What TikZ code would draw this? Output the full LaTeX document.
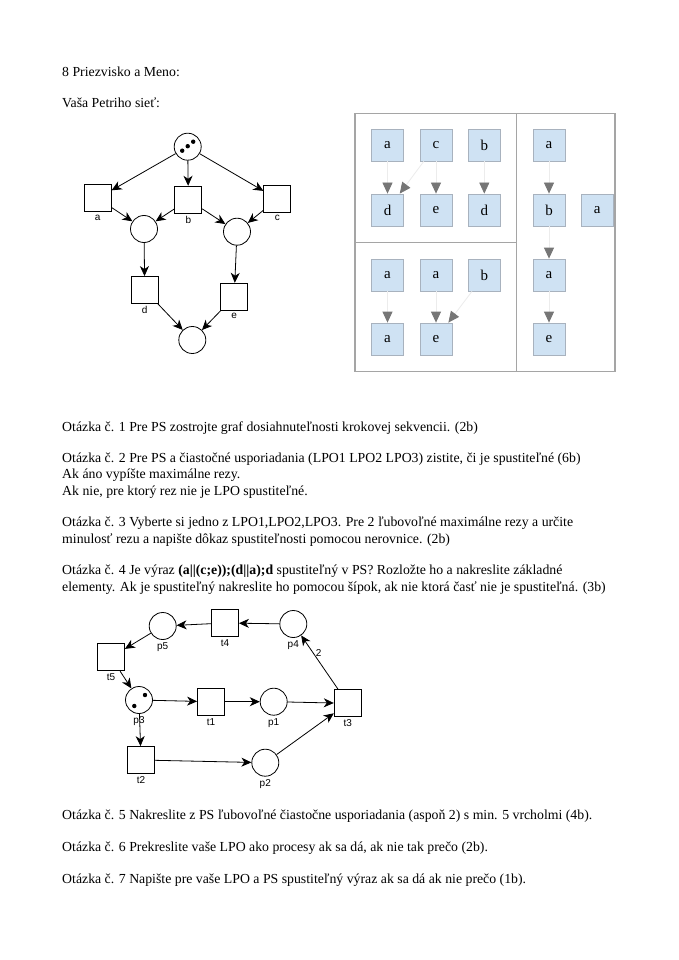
\documentclass[tikz,border=0pt]{standalone}
\usepackage{fontspec}
\setmainfont{Liberation Serif}
\newfontfamily\pnfont{Liberation Sans}
\usepackage{xcolor}
\usetikzlibrary{arrows.meta}

\definecolor{lpofill}{RGB}{207,226,243}
\definecolor{lpoedge}{RGB}{168,178,190}
\definecolor{lpohead}{RGB}{118,118,118}
\definecolor{lpoline}{RGB}{236,236,236}
\definecolor{framegray}{RGB}{165,165,165}

\begin{document}
\begin{tikzpicture}[x=1pt, y=-1pt,
    txt/.style={anchor=base west, inner sep=0pt, font=\fontsize{13.8}{16}\selectfont},
    pnplace/.style={circle, draw, line width=0.8pt, minimum size=27pt, inner sep=0pt},
    pntrans/.style={rectangle, draw, line width=0.8pt, minimum size=27pt, inner sep=0pt},
    lbl/.style={font=\pnfont\fontsize{10}{11}\selectfont, inner sep=1pt},
    arc/.style={line width=0.8pt, -{Stealth[length=10pt, width=9pt, inset=3pt]}},
    lpo/.style={rectangle, draw=lpoedge, fill=lpofill, line width=0.8pt, minimum size=32pt, inner sep=0pt, font=\fontsize{15}{15}\selectfont},
    order/.style={draw=lpoline, line width=0.8pt, -{Triangle[color=lpohead, length=11pt, width=10pt]}}]
    \useasboundingbox (0,0) rectangle (678,960);
    \fill[white] (0,0) rectangle (678,960);

    % texts
    \node[txt] (hdr) at (62,77) {8 Priezvisko a Meno:};
    \node[txt] (net) at (62,108) {Vaša Petriho sieť:};
    \node[txt] (q1) at (62,431) {Otázka č. 1 Pre PS zostrojte graf dosiahnuteľnosti krokovej sekvencii. (2b)};
    \node[txt] (q2) at (62,462) {Otázka č. 2 Pre PS a čiastočné usporiadania (LPO1 LPO2 LPO3) zistite, či je spustiteľné (6b)};
    \node[txt] (q2b) at (62,478.5) {Ak áno vypíšte maximálne rezy.};
    \node[txt] (q2c) at (62,495) {Ak nie, pre ktorý rez nie je LPO spustiteľné.};
    \node[txt] (q3) at (62,526) {Otázka č. 3 Vyberte si jedno z LPO1,LPO2,LPO3. Pre 2 ľubovoľné maximálne rezy a určite};
    \node[txt] (q3b) at (62,543) {minulosť rezu a napište dôkaz spustiteľnosti pomocou nerovnice. (2b)};
    \node[txt] (q4) at (62,574) {Otázka č. 4 Je výraz {\bfseries (a||(c;e));(d||a);d} spustiteľný v PS? Rozložte ho a nakreslite základné};
    \node[txt] (q4b) at (62,591) {elementy. Ak je spustiteľný nakreslite ho pomocou šípok, ak nie ktorá časť nie je spustiteľná. (3b)};
    \node[txt] (q5) at (62,819) {Otázka č. 5 Nakreslite z PS ľubovoľné čiastočne usporiadania (aspoň 2) s min. 5 vrcholmi (4b).};
    \node[txt] (q6) at (62,851) {Otázka č. 6 Prekreslite vaše LPO ako procesy ak sa dá, ak nie tak prečo (2b).};
    \node[txt] (q7) at (62,883) {Otázka č. 7 Napište pre vaše LPO a PS spustiteľný výraz ak sa dá ak nie prečo (1b).};

    % first petri net
    \node[pnplace] (s0) at (187.7,146.7) {};
    \fill (s0.center) ++(-5.5,4) circle (2.2);
    \fill (s0.center) ++(0,-0.5) circle (2.2);
    \fill (s0.center) ++(5.5,-5) circle (2.2);
    \node[pntrans, label={[lbl, label distance=1.5pt]below:a}] (ta) at (97.7,198.3) {};
    \node[pntrans, label={[lbl, label distance=1.5pt]below:b}] (tb) at (188.3,199.7) {};
    \node[pntrans, label={[lbl, label distance=1.5pt]below:c}] (tc) at (277.3,199) {};
    \node[pnplace] (s1) at (144,229) {};
    \node[pnplace] (s2) at (237,231.7) {};
    \node[pntrans, label={[lbl, label distance=1.5pt]below:d}] (td) at (144.7,290) {};
    \node[pntrans, label={[lbl, label distance=1.5pt]below:e}] (te) at (234.2,296.7) {};
    \node[pnplace] (s3) at (192.3,340) {};

    \draw[arc] (s0) -- (ta);
    \draw[arc] (s0) -- (tb);
    \draw[arc] (s0) -- (tc);
    \draw[arc] (ta) -- (s1);
    \draw[arc] (tb) -- (s1);
    \draw[arc] (tb) -- (s2);
    \draw[arc] (tc) -- (s2);
    \draw[arc] (s1) -- (td);
    \draw[arc] (s2) -- (te);
    \draw[arc] (td) -- (s3);
    \draw[arc] (te) -- (s3);

    % LPO1, LPO2, LPO3
    \draw[framegray, line width=1.2pt] (355,113.3) rectangle (615,371.7);
    \draw[framegray, line width=1.2pt] (516.7,113.3) -- (516.7,371.7);
    \draw[framegray, line width=1.2pt] (355,242.3) -- (516.7,242.3);

    \node[lpo] (x1a) at (387.5,145) {a};
    \node[lpo] (x1c) at (436,145) {c};
    \node[lpo] (x1b) at (484.3,145) {b};
    \node[lpo] (x1d) at (387.5,210) {d};
    \node[lpo] (x1e) at (436,210) {e};
    \node[lpo] (x1f) at (484.3,210) {d};
    \draw[order] (x1a) -- (x1d);
    \draw[order] (x1c) -- (x1d);
    \draw[order] (x1c) -- (x1e);
    \draw[order] (x1b) -- (x1f);

    \node[lpo] (x2a) at (387.5,275) {a};
    \node[lpo] (x2b) at (436,275) {a};
    \node[lpo] (x2c) at (484.3,275) {b};
    \node[lpo] (x2d) at (387.5,339) {a};
    \node[lpo] (x2e) at (436,339) {e};
    \draw[order] (x2a) -- (x2d);
    \draw[order] (x2b) -- (x2e);
    \draw[order] (x2c) -- (x2e);

    \node[lpo] (x3a) at (549,145) {a};
    \node[lpo] (x3b) at (549,210) {b};
    \node[lpo] (x3f) at (597.3,210) {a};
    \node[lpo] (x3c) at (549,275) {a};
    \node[lpo] (x3d) at (549,339) {e};
    \draw[order] (x3a) -- (x3b);
    \draw[order] (x3b) -- (x3c);
    \draw[order] (x3c) -- (x3d);

    % second petri net
    \node[pnplace, label={[lbl, label distance=1.5pt]below:p5}] (p5) at (162.7,626) {};
    \node[pntrans, label={[lbl, label distance=1.5pt]below:t4}] (t4) at (225,623) {};
    \node[pnplace, label={[lbl, label distance=1.5pt]below:p4}] (p4) at (293.3,624) {};
    \node[pntrans, label={[lbl, label distance=1.5pt]below:t5}] (t5) at (111,657.3) {};
    \node[pnplace, label={[lbl, label distance=1.5pt]below:p3}] (p3) at (139,700) {};
    \fill (p3.center) ++(-4.7,6) circle (2.2);
    \fill (p3.center) ++(6,-5) circle (2.2);
    \node[pntrans, label={[lbl, label distance=1.5pt]below:t1}] (t1) at (211,701.7) {};
    \node[pnplace, label={[lbl, label distance=1.5pt]below:p1}] (p1) at (273.7,701.7) {};
    \node[pntrans, label={[lbl, label distance=1.5pt]below:t3}] (t3) at (347.7,703.3) {};
    \node[pntrans, label={[lbl, label distance=1.5pt]below:t2}] (t2) at (141,760) {};
    \node[pnplace, label={[lbl, label distance=1.5pt]below:p2}] (p2) at (265.3,762.7) {};

    \draw[arc] (p4) -- (t4);
    \draw[arc] (t4) -- (p5);
    \draw[arc] (p5) -- (t5);
    \draw[arc] (t5) -- (p3);
    \draw[arc] (p3) -- (t1);
    \draw[arc] (t1) -- (p1);
    \draw[arc] (p1) -- (t3);
    \draw[arc] (p3) -- (t2);
    \draw[arc] (t2) -- (p2);
    \draw[arc] (p2) -- (t3);
    \draw[arc] (t3) -- node[lbl, pos=0.67, right=1pt] {2} (p4);
\end{tikzpicture}
\end{document}
